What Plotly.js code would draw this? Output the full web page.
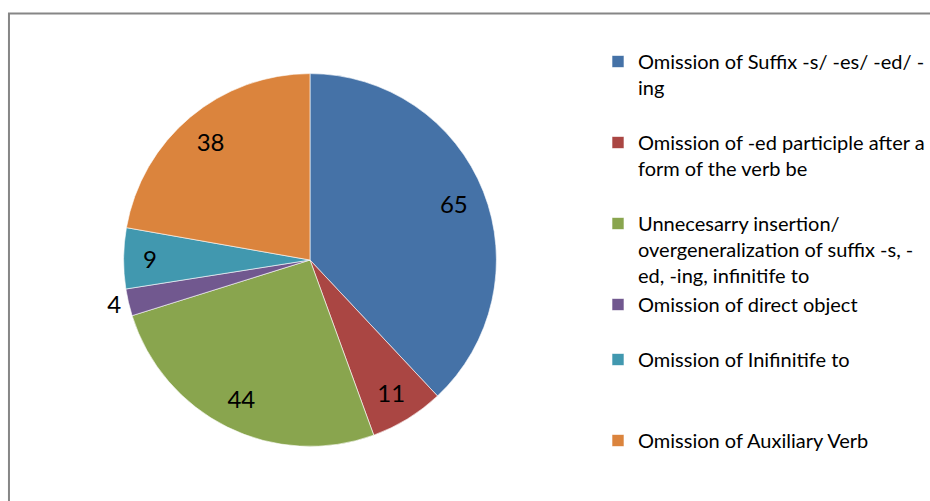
<!DOCTYPE html>
<html>
<head>
<meta charset="utf-8">
<script src="https://cdn.plot.ly/plotly-3.0.1.min.js"></script>
<style>html,body{margin:0;padding:0;background:#fff;}#chart{width:930px;height:501px;}</style>
</head>
<body>
<div id="chart"></div>
<script>
// Data
const categories = [
  "Omission of Suffix -s/ -es/ -ed/ -<br>ing",
  "Omission of -ed participle after a<br>form of the verb be",
  "Unnecesarry insertion/<br>overgeneralization of suffix -s, -<br>ed, -ing, infinitife to",
  "Omission of direct object",
  "Omission of Inifinitife to",
  "Omission of Auxiliary Verb"
];
const counts = [65, 11, 44, 4, 9, 38];
const colors = ["#4572A7", "#AA4643", "#89A54E", "#71588F", "#4198AF", "#DB843D"];

// Styling helpers (legend spacing, label placement)
const legendPadLines = [1, 1, 0, 1, 2, 0];
const labelPositions = ["inside", "inside", "inside", "outside", "inside", "inside"];

const legendLabels = categories.map((c, i) => c + "<br> ".repeat(legendPadLines[i]));
const pieDomain = { x: [124 / 930, 498 / 930], y: [54 / 501, 428 / 501] };
const labelFont = { family: "Lato, 'Open Sans', sans-serif", size: 24, color: "#000000" };

// Main pie: slices + legend
const slices = {
  type: "pie",
  labels: legendLabels,
  values: counts,
  sort: false,
  direction: "clockwise",
  rotation: 0,
  marker: { colors: colors, line: { color: "#ffffff", width: 0.6 } },
  textinfo: "none",
  domain: pieDomain,
  hoverinfo: "label+value"
};

// Overlay pie (transparent ring) carrying the value labels further out, like Excel
const valueLabels = {
  type: "pie",
  labels: legendLabels,
  values: counts,
  sort: false,
  direction: "clockwise",
  rotation: 0,
  hole: 0.66,
  showlegend: false,
  marker: { colors: counts.map(() => "rgba(0,0,0,0)"), line: { width: 0 } },
  textinfo: "value",
  textposition: labelPositions,
  insidetextorientation: "horizontal",
  textfont: labelFont,
  insidetextfont: labelFont,
  outsidetextfont: labelFont,
  domain: pieDomain,
  hoverinfo: "skip"
};

const layout = {
  width: 930,
  height: 501,
  margin: { l: 0, r: 0, t: 0, b: 0 },
  paper_bgcolor: "#ffffff",
  showlegend: true,
  legend: {
    x: 600 / 930,
    xanchor: "left",
    y: 1 - 42 / 501,
    yanchor: "top",
    valign: "top",
    itemwidth: 30,
    font: { family: "Lato, 'Open Sans', sans-serif", size: 20, color: "#000000" },
    bgcolor: "rgba(0,0,0,0)",
    traceorder: "normal"
  },
  shapes: [{
    type: "rect", xref: "paper", yref: "paper",
    x0: 9 / 930, x1: 1.05, y0: -0.05, y1: 1 - 13.5 / 501,
    line: { color: "#868686", width: 2 }, fillcolor: "rgba(0,0,0,0)", layer: "below"
  }]
};

Plotly.newPlot("chart", [slices, valueLabels], layout, { displayModeBar: false, staticPlot: true });
</script>
</body>
</html>
